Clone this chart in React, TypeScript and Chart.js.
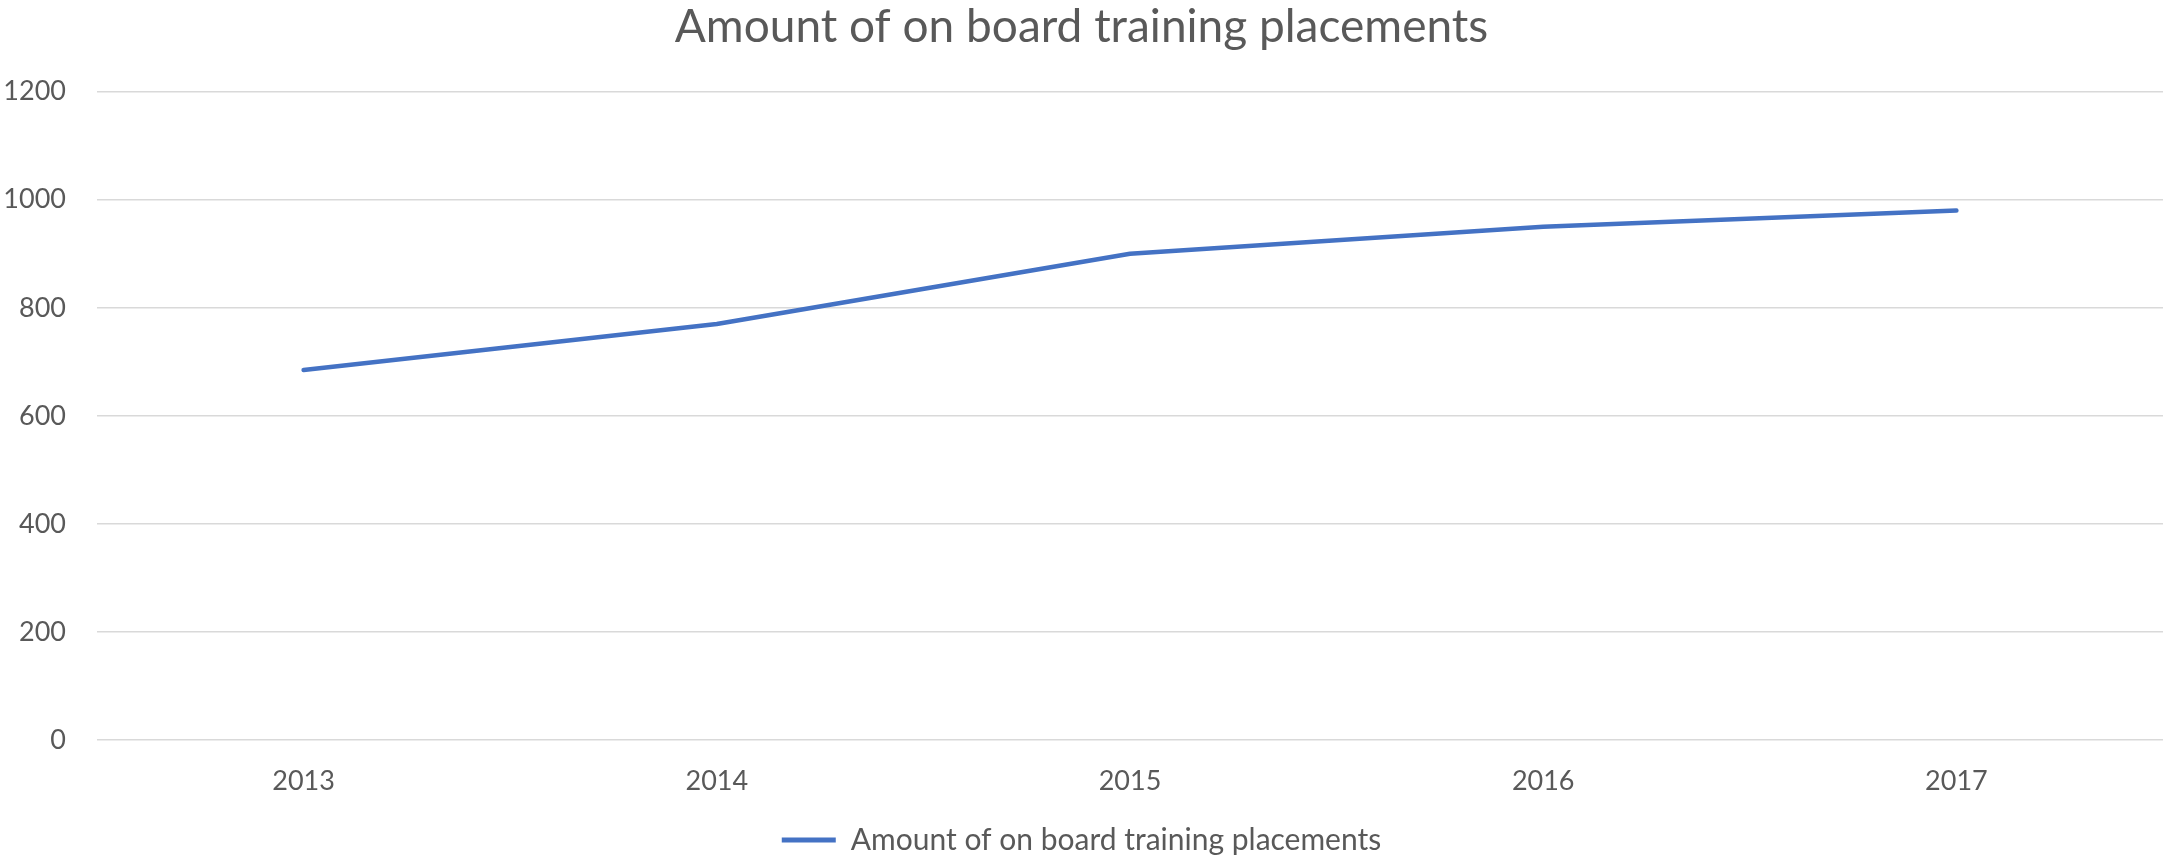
import React, { useEffect, useRef } from "react";
import { Chart, registerables } from "chart.js";

Chart.register(...registerables);

const chartTitle = "Amount of on board training placements";
const seriesLabel = "Amount of on board training placements";
const years = ["2013", "2014", "2015", "2016", "2017"];
const placements = [685, 770, 900, 950, 980];
const yMin = 0;
const yMax = 1200;
const yStep = 200;

const FONT = "Lato, 'Open Sans', sans-serif";
const TEXT = "#595959";
const LINE = "#4472C4";

export default function App() {
  const ref = useRef<HTMLCanvasElement | null>(null);

  useEffect(() => {
    if (!ref.current) return;
    const chart = new Chart(ref.current, {
      type: "line",
      data: {
        labels: years,
        datasets: [
          {
            label: seriesLabel,
            data: placements,
            borderColor: LINE,
            backgroundColor: LINE,
            borderWidth: 4.5,
            pointRadius: 0,
            pointHoverRadius: 0,
            tension: 0,
            borderCapStyle: "round",
            borderJoinStyle: "round",
            fill: false,
          },
        ],
      },
      options: {
        responsive: false,
        animation: false,
        devicePixelRatio: 1,
        layout: { padding: { left: 0, right: 14, top: 0, bottom: 0 } },
        plugins: {
          title: {
            display: true,
            text: chartTitle,
            color: TEXT,
            font: { family: FONT, size: 46, weight: "normal" },
            padding: { top: 0, bottom: 36.5 },
          },
          legend: {
            display: true,
            position: "bottom",
            labels: {
              color: TEXT,
              font: { family: FONT, size: 30 },
              boxWidth: 54,
              boxHeight: 5,
              padding: 0,
              useBorderRadius: true,
              borderRadius: 2.5,
              generateLabels: (c: any) =>
                c.data.datasets.map((ds: any, i: number) => ({
                  text: ds.label,
                  fillStyle: LINE,
                  strokeStyle: LINE,
                  lineWidth: 0,
                  fontColor: TEXT,
                  hidden: false,
                  datasetIndex: i,
                })),
            },
          },
          tooltip: { enabled: false },
        },
        scales: {
          x: {
            offset: true,
            grid: { display: false, drawTicks: false },
            border: { display: false },
            ticks: {
              color: TEXT,
              font: { family: FONT, size: 27 },
              padding: 25,
              maxRotation: 0,
            },
            afterFit: (s: any) => {
              s.height = 85;
            },
          },
          y: {
            min: yMin,
            max: yMax,
            grid: { color: "#d9d9d9", lineWidth: 1.5, drawTicks: false },
            border: { display: false },
            ticks: {
              stepSize: yStep,
              color: TEXT,
              font: { family: FONT, size: 27 },
              padding: 31,
              callback: (v: any) => String(v),
            },
            afterFit: (s: any) => {
              s.width = 97;
            },
          },
        },
      },
    });
    return () => chart.destroy();
  }, []);

  return (
    <div style={{ position: "absolute", left: 0, top: 0, width: 2177, height: 865, background: "#fff" }}>
      <canvas ref={ref} width={2177} height={865} style={{ width: 2177, height: 865, display: "block" }} />
    </div>
  );
}
